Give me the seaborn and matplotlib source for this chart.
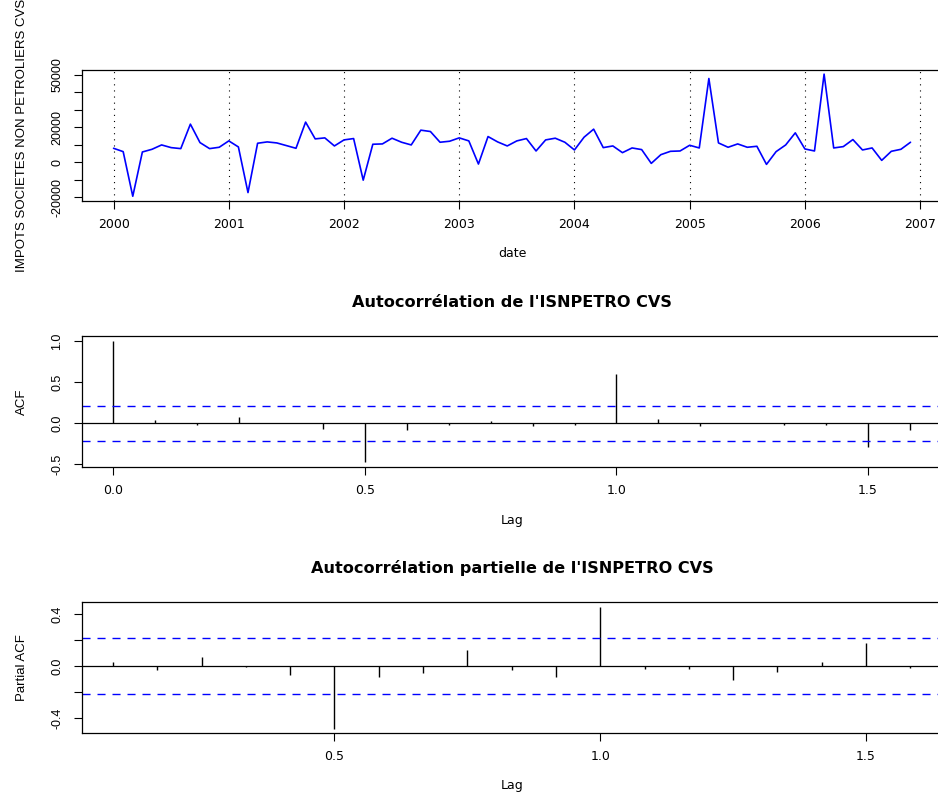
import numpy as np
import pandas as pd
import matplotlib
matplotlib.use("Agg")
import matplotlib.pyplot as plt
import seaborn as sns

# Corporate tax receipts excluding oil companies, seasonally adjusted (monthly, 2000-2006)
start_year = 2000
isnpetro = [
    8050, 6130, -19420, 5940, 7470, 9970, 8430, 7860, 21880, 11310, 7860, 8630,
    12280, 8820, -17310, 10930, 11700, 11120, 9590, 8050, 23040, 13430, 14010, 9390,
    12850, 13620, -10200, 10360, 10550, 13820, 11510, 9970, 18430, 17650, 11510, 12090,
    14010, 12280, -980, 14770, 11700, 9390, 12280, 13620, 6510, 12850, 13820, 11510,
    7090, 14390, 19000, 8430, 9390, 5550, 8240, 7300, -590, 4400, 6320, 6510,
    9780, 8240, 48010, 11120, 8630, 10550, 8630, 9200, -1170, 6130, 9970, 16890,
    7670, 6510, 50510, 8240, 9010, 13040, 7090, 8240, 1130, 6320, 7470, 11510,
]

# Sample autocorrelations, lags 0..19 months
acf_values = [1.0, 0.04, -0.024, 0.073, 0.008, -0.073, -0.478, -0.081, -0.028, 0.028,
              -0.033, -0.024, 0.600, 0.053, -0.032, 0.004, -0.016, -0.020, -0.284, -0.077]
# Sample partial autocorrelations, lags 1..19 months
pacf_values = [0.033, -0.028, 0.069, -0.005, -0.067, -0.479, -0.085, -0.049, 0.126,
               -0.028, -0.079, 0.454, -0.018, -0.023, -0.105, -0.046, 0.033, 0.177, -0.013]

year_ticks = [2000, 2001, 2002, 2003, 2004, 2005, 2006, 2007]
series_yticks = [-20000, -10000, 0, 10000, 20000, 30000, 40000, 50000]
series_ylabels = ["-20000", "", "0", "", "20000", "", "", "50000"]
acf_xticks = [0.0, 0.5, 1.0, 1.5]
acf_yticks = [-0.5, 0.0, 0.5, 1.0]
acf_ylabels = ["-0.5", "0.0", "0.5", "1.0"]
pacf_xticks = [0.5, 1.0, 1.5]
pacf_yticks = [-0.4, -0.2, 0.0, 0.2, 0.4]
pacf_ylabels = ["-0.4", "", "0.0", "", "0.4"]

series_label = "IMPOTS SOCIETES NON PETROLIERS CVS"
acf_title = "Autocorrélation de l'ISNPETRO CVS"
pacf_title = "Autocorrélation partielle de l'ISNPETRO CVS"

sns.set_theme(style="white", rc={
    "axes.edgecolor": "black", "axes.linewidth": 0.9,
    "xtick.bottom": True, "ytick.left": True,
    "xtick.major.size": 5.6, "ytick.major.size": 5.6,
    "xtick.major.width": 0.8, "ytick.major.width": 0.8,
    "xtick.color": "black", "ytick.color": "black",
    "xtick.labelcolor": "black", "ytick.labelcolor": "black",
    "text.color": "black", "axes.labelcolor": "black",
    "axes.unicode_minus": False,
    "lines.scale_dashes": False,
})
plt.rcParams["font.family"] = ["DejaVu Sans"]

H_FONT = "DejaVu Sans"       # horizontal text
V_FONT = "Liberation Sans"   # rotated text
FS = 9
FS_V = 9.5

W, H = 938, 794
fig = plt.figure(figsize=(W / 100, H / 100), dpi=100)
fig.patch.set_facecolor("white")


def px_axes(left, top, right, bottom):
    return fig.add_axes([left / W, 1 - bottom / H, (right - left) / W, (bottom - top) / H])


ax1 = px_axes(82, 70, 942, 200.5)
ax2 = px_axes(82, 336, 942, 467)
ax3 = px_axes(82, 602.3, 942, 732.7)

n = len(isnpetro)
dates = start_year + np.arange(n) / 12
df = pd.DataFrame({"date": dates, "value": isnpetro})
ci = 1.96 / np.sqrt(n)


def style_axes(ax, xticks, xlabels, yticks, ylabels, xlab, ylab, h):
    ax.set_xticks(xticks)
    ax.set_xticklabels(xlabels, fontsize=FS, family=H_FONT, color="black")
    ax.set_yticks(yticks)
    ax.set_yticklabels(ylabels, fontsize=FS, family=V_FONT, rotation=90, va="center",
                       ha="right", color="black")
    ax.tick_params(axis="x", pad=6.9, direction="out")
    ax.tick_params(axis="y", pad=7.8, direction="out")
    ax.set_xlabel(xlab, fontsize=FS, family=H_FONT, va="baseline", color="black")
    ax.xaxis.set_label_coords(0.5, -56.6 / h)
    ax.set_ylabel(ylab, fontsize=FS_V, family=V_FONT, va="baseline", color="black")
    ax.yaxis.set_label_coords(-57 / 860, 0.5)
    ax.grid(False)
    for s in ax.spines.values():
        s.set_visible(True)
        s.set_color("black")
        s.set_linewidth(0.9)


# Time series panel
for yr in year_ticks:
    ax1.axvline(yr, color="black", lw=0.8, ls=(0, (0.8, 3.6)), zorder=1)
sns.lineplot(data=df, x="date", y="value", ax=ax1, color="#0000FF", lw=1.2, zorder=3)
ax1.set_xlim(1999.726, 2007.19)
ax1.set_ylim(-21850, 52880)
style_axes(ax1, year_ticks, [str(y) for y in year_ticks], series_yticks, series_ylabels,
           "date", series_label, 130.5)

# ACF panel
acf_lags = np.arange(len(acf_values)) / 12
ax2.vlines(acf_lags, 0, acf_values, color="black", lw=1.0)
ax2.axhline(0, color="black", lw=0.9)
for c in (ci, -ci):
    ax2.axhline(c, color="#0000FF", lw=1.0, ls=(0, (5.8, 5.0)))
ax2.set_xlim(-0.0622, 1.647)
ax2.set_ylim(-0.533, 1.061)
style_axes(ax2, acf_xticks, ["0.0", "0.5", "1.0", "1.5"], acf_yticks, acf_ylabels,
           "Lag", "ACF", 131)
ax2.set_title(acf_title, fontsize=11.6, fontweight="bold", family=H_FONT, color="black",
              y=1 + (336 - 307.3) / 131, va="baseline", pad=0)

# PACF panel
pacf_lags = np.arange(1, len(pacf_values) + 1) / 12
ax3.vlines(pacf_lags, 0, pacf_values, color="black", lw=1.0)
ax3.axhline(0, color="black", lw=0.9)
for c in (ci, -ci):
    ax3.axhline(c, color="#0000FF", lw=1.0, ls=(0, (5.8, 5.0)))
ax3.set_xlim(0.0251, 1.643)
ax3.set_ylim(-0.511, 0.492)
style_axes(ax3, pacf_xticks, ["0.5", "1.0", "1.5"], pacf_yticks, pacf_ylabels,
           "Lag", "Partial ACF", 130.4)
ax3.set_title(pacf_title, fontsize=11.6, fontweight="bold", family=H_FONT, color="black",
              y=1 + (602.3 - 573.3) / 130.4, va="baseline", pad=0)

fig.savefig("out.png", dpi=100, facecolor="white")
